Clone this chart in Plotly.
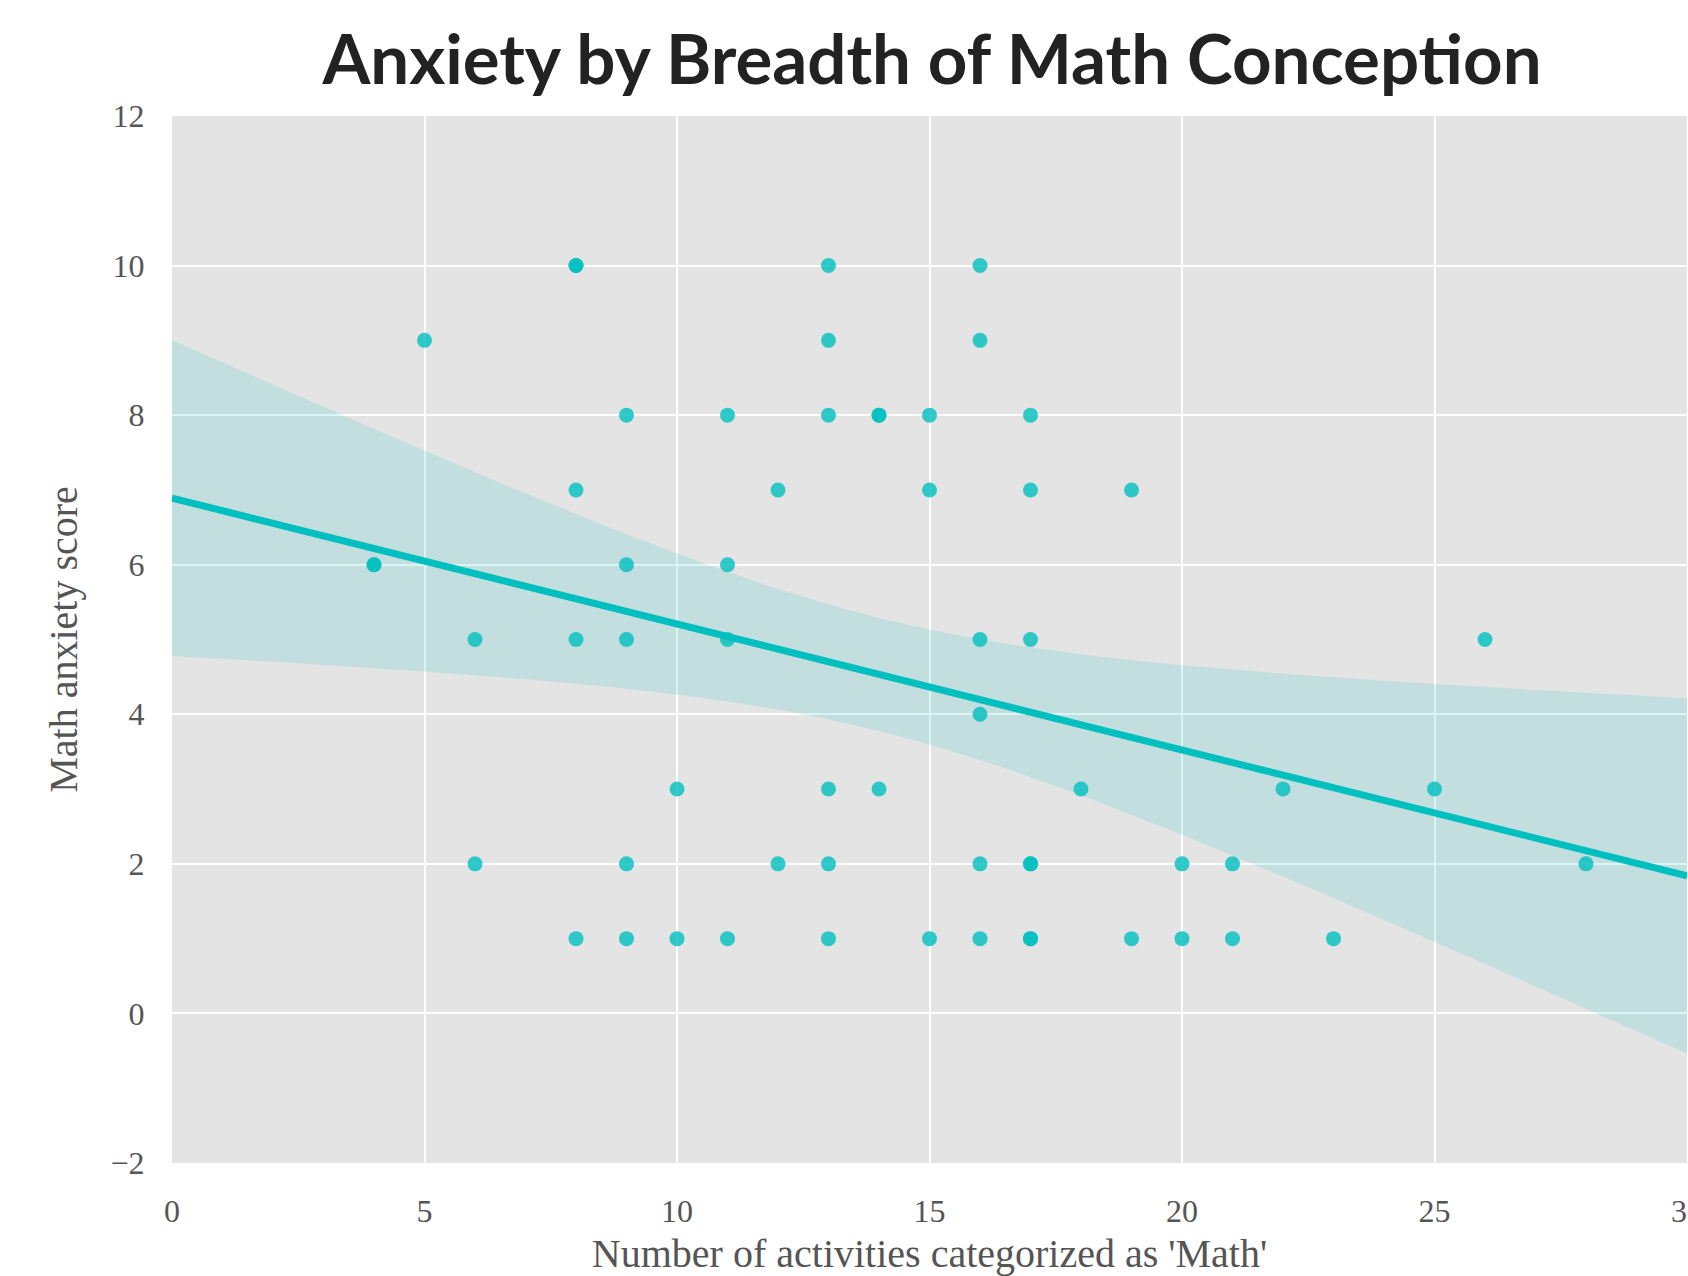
import numpy as np
import plotly.graph_objects as go

# Data (x = number of activities categorized as 'Math', y = anxiety score)
activities = [8, 8, 13, 16,
              5, 13, 16,
              9, 11, 13, 14, 14, 15, 17,
              8, 12, 15, 17, 19,
              4, 4, 9, 11,
              6, 8, 9, 11, 16, 17, 26,
              16,
              10, 13, 14, 18, 22, 25,
              6, 9, 12, 13, 16, 17, 17, 20, 21, 28,
              8, 9, 10, 11, 13, 15, 16, 17, 17, 19, 20, 21, 23]
anxiety = [10, 10, 10, 10,
           9, 9, 9,
           8, 8, 8, 8, 8, 8, 8,
           7, 7, 7, 7, 7,
           6, 6, 6, 6,
           5, 5, 5, 5, 5, 5, 5,
           4,
           3, 3, 3, 3, 3, 3,
           2, 2, 2, 2, 2, 2, 2, 2, 2, 2,
           1, 1, 1, 1, 1, 1, 1, 1, 1, 1, 1, 1, 1]

x_ticks = [0, 5, 10, 15, 20, 25, 30]
y_ticks = [-2, 0, 2, 4, 6, 8, 10, 12]

title_text = "Anxiety by Breadth of Math Conception"
x_title = "Number of activities categorized as 'Math'"
y_title = "Math anxiety score"

# Linear regression with 95% confidence band (computed from the data)
x = np.array(activities, dtype=float)
y = np.array(anxiety, dtype=float)
n = len(x)
xm, ym = x.mean(), y.mean()
sxx = ((x - xm) ** 2).sum()
slope = ((x - xm) * (y - ym)).sum() / sxx
intercept = ym - slope * xm
resid = y - (intercept + slope * x)
s = np.sqrt((resid ** 2).sum() / (n - 2))
t_crit = 2.0017  # t(0.975, df=58)
grid = np.linspace(x_ticks[0], x_ticks[-1], 101)
fit = intercept + slope * grid
se = s * np.sqrt(1.0 / n + (grid - xm) ** 2 / sxx)
upper = fit + t_crit * se
lower = fit - t_crit * se

teal = "rgb(0,191,191)"

fig = go.Figure()
fig.add_trace(go.Scatter(
    x=x, y=y, mode="markers",
    marker=dict(size=15, color="rgba(0,191,191,0.8)", line=dict(width=0)),
    showlegend=False, hoverinfo="x+y"))
fig.add_trace(go.Scatter(
    x=np.concatenate([grid, grid[::-1]]),
    y=np.concatenate([upper, lower[::-1]]),
    fill="toself", fillcolor="rgba(0,191,191,0.15)",
    line=dict(width=0), mode="lines", showlegend=False, hoverinfo="skip"))
fig.add_trace(go.Scatter(
    x=grid, y=fit, mode="lines", line=dict(color=teal, width=7),
    showlegend=False, hoverinfo="skip"))

axis_font = dict(family="Liberation Serif, Times New Roman, serif", size=32, color="#555555")
title_font = dict(family="Liberation Serif, Times New Roman, serif", size=40, color="#555555")

fig.update_layout(
    width=1688, height=1276,
    margin=dict(l=172, r=1, t=116, b=113, autoexpand=False),
    paper_bgcolor="white",
    plot_bgcolor="#e4e4e4",
    title=dict(text=title_text, x=932 / 1688, xanchor="center", y=1 - 60 / 1276, yanchor="middle",
               font=dict(family="Lato, Noto Sans, sans-serif", size=69, color="#222222", weight="bold")),
    xaxis=dict(range=[0, 30], tickvals=x_ticks, ticktext=[str(v) for v in x_ticks],
               showgrid=True, gridcolor="white", gridwidth=2, zeroline=False,
               showline=False, ticks="outside", ticklen=20, tickcolor="rgba(0,0,0,0)",
               ticklabeloverflow="allow", automargin=False,
               tickfont=axis_font, title=dict(text=x_title, font=title_font, standoff=16)),
    yaxis=dict(range=[-2, 12], tickvals=y_ticks, ticktext=[("\u2212" + str(-v)) if v < 0 else str(v) for v in y_ticks],
               showgrid=True, gridcolor="white", gridwidth=2, zeroline=False,
               showline=False, ticks="outside", ticklen=20, tickcolor="rgba(0,0,0,0)",
               automargin=False,
               tickfont=axis_font, title=dict(text=y_title, font=title_font, standoff=20)),
)

fig.write_html("out.html")
